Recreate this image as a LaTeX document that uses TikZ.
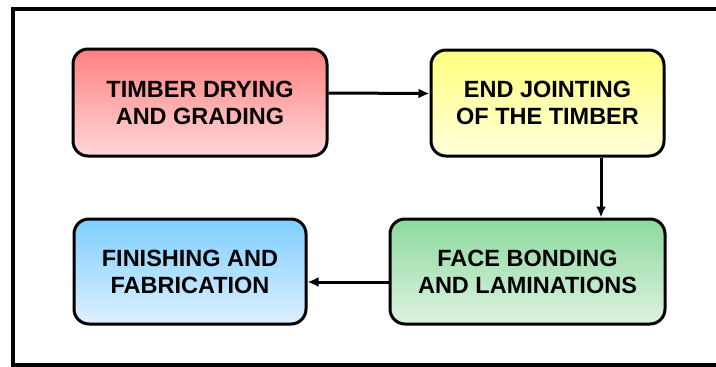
\documentclass[tikz,border=0pt]{standalone}
\usepackage{fontspec}
\setmainfont{Liberation Sans}
\usepackage{xcolor}
\usepackage{tikz}
\usetikzlibrary{calc, arrows.meta, positioning}

\definecolor{redtop}{HTML}{FF7F7F}
\definecolor{redbot}{HTML}{FFD8D8}
\definecolor{yeltop}{HTML}{FFFF7F}
\definecolor{yelbot}{HTML}{FFFFDC}
\definecolor{bluetop}{HTML}{7FCEFF}
\definecolor{bluebot}{HTML}{DDF0FF}
\definecolor{greentop}{HTML}{8CDA9C}
\definecolor{greenbot}{HTML}{DDF2E1}

\begin{document}
\begin{tikzpicture}[x=1pt, y=-1pt, >={Latex[length=11pt,width=10pt]},
    stage/.style={draw, line width=3pt, rounded corners=15pt, align=center,
        inner sep=0pt, font=\fontsize{23.5}{27}\selectfont\bfseries},
    link/.style={->, line width=3pt}]
    % 1. Khung ngoai
    \useasboundingbox (0,0) rectangle (716,367);
    \draw[line width=3.5pt] (724,9) -- (13,9) -- (13,365) -- (724,365);

    % 2. Cac buoc
    \node[stage, top color=redtop, bottom color=redbot,
        minimum width=254pt, minimum height=107pt] (drying) at (200,102.5)
        {TIMBER DRYING\\AND GRADING};
    \node[stage, top color=yeltop, bottom color=yelbot,
        minimum width=233pt, minimum height=106pt] (jointing) at (547.5,103)
        {END JOINTING\\OF THE TIMBER};
    \node[stage, top color=greentop, bottom color=greenbot,
        minimum width=275pt, minimum height=105pt] (bonding) at (527.5,271.5)
        {FACE BONDING\\AND LAMINATIONS};
    \node[stage, top color=bluetop, bottom color=bluebot,
        minimum width=232pt, minimum height=105pt] (finishing) at (190,271.5)
        {FINISHING AND\\FABRICATION};

    % 3. Mui ten
    \draw[link] ([yshift=9.5pt]drying.east) -- ([yshift=9.5pt]jointing.west);
    \draw[link] ([xshift=53.5pt]jointing.south)
        -- ([xshift=53.5pt]jointing.south |- bonding.north);
    \draw[link] ([yshift=-10.5pt]bonding.west) -- ([yshift=-10.5pt]finishing.east);
\end{tikzpicture}
\end{document}
